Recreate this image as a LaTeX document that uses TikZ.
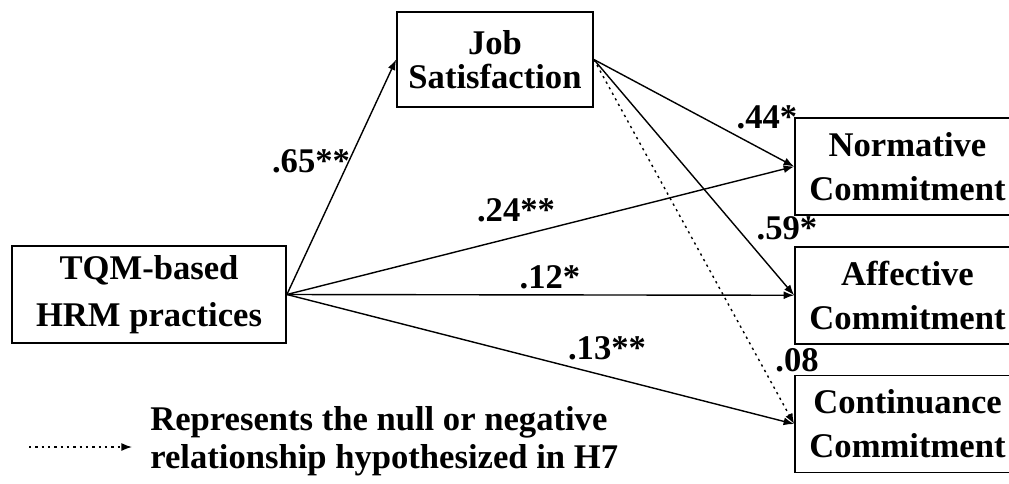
\documentclass[tikz,border=0pt]{standalone}
\usepackage{fontspec}
\setmainfont{Liberation Serif}
\usetikzlibrary{arrows.meta,positioning}

\tikzset{
  varbox/.style={draw, line width=1pt, align=center, inner sep=0pt, minimum height=1.94cm},
  coef/.style={inner sep=0pt, font=\bfseries\fontsize{19.7}{21}\selectfont},
  link/.style={-{Latex[length=6pt,width=4.5pt]}, line width=0.8pt},
  nulllink/.style={link, dash pattern=on 1.3pt off 2.3pt},
}

\begin{document}
\begin{tikzpicture}[node distance=0.6cm]
  \useasboundingbox (0,0) rectangle (20.18,-9.66);
  % variables
  \node[varbox, minimum width=5.48cm, font=\bfseries\fontsize{19.7}{26.6}\selectfont] (tqm) at (2.98,-5.89) {TQM-based\\HRM practices};
  \node[varbox, minimum width=3.92cm, minimum height=1.9cm, font=\bfseries\fontsize{19.7}{19.5}\selectfont] (js) at (9.90,-1.19) {Job\\Satisfaction};
  \node[varbox, minimum width=4.5cm, font=\bfseries\fontsize{19.7}{25}\selectfont] (norm) at (18.15,-3.33) {Normative\\Commitment};
  \node[varbox, minimum width=4.5cm, font=\bfseries\fontsize{19.7}{25}\selectfont, below=of norm] (aff) {Affective\\Commitment};
  \node[varbox, minimum width=4.5cm, font=\bfseries\fontsize{19.7}{25}\selectfont, below=of aff] (cont) {Continuance\\Commitment};

  % paths
  \draw[link] (tqm.east) -- (js.west);
  \draw[link] (tqm.east) -- (norm.west);
  \draw[link] (tqm.east) -- (aff.west);
  \draw[link] (tqm.east) -- (cont.west);
  \draw[link] (js.east) -- (norm.west);
  \draw[link] (js.east) -- (aff.west);
  \draw[nulllink] (js.east) -- (cont.west);

  % coefficients
  \node[coef] (c65) at (6.22,-3.22) {.65**};
  \node[coef] (c24) at (10.32,-4.20) {.24**};
  \node[coef] (c12) at (11.00,-5.54) {.12*};
  \node[coef] (c13) at (12.14,-6.96) {.13**};
  \node[coef] (c44) at (15.34,-2.34) {.44*};
  \node[coef] (c59) at (15.74,-4.56) {.59*};
  \node[coef] (c08) at (15.94,-7.20) {.08};

  % key
  \coordinate (keyfrom) at (0.58,-8.94);
  \coordinate (keyto) at (2.64,-8.94);
  \draw[nulllink] (keyfrom) -- (keyto);
  \node[coef, anchor=west, align=left, font=\bfseries\fontsize{19.7}{21.5}\selectfont] (key) at (3.0,-8.83) {Represents the null or negative\\relationship hypothesized in H7};
\end{tikzpicture}
\end{document}
